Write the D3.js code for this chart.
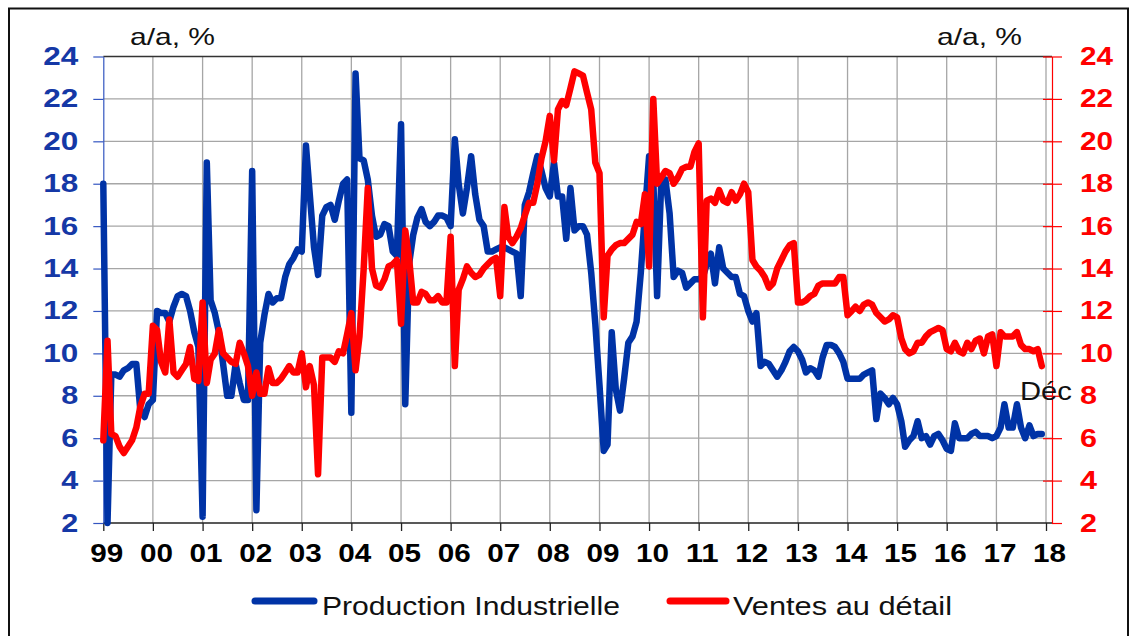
<!DOCTYPE html>
<html><head><meta charset="utf-8">
<script src="https://cdnjs.cloudflare.com/ajax/libs/d3/7.8.5/d3.min.js"></script>
<style>
body{margin:0;background:#fff}
svg{display:block}
text{font-family:"Liberation Sans",Arial,Helvetica,sans-serif}
</style>
</head><body>
<svg id="chart" width="1131" height="636"></svg>
<script>
// ---- data (monthly, Jan 1999 .. Dec 2017, % y/y) ----
const startYear = 1999;
const yearLabels = ["99","00","01","02","03","04","05","06","07","08","09","10","11","12","13","14","15","16","17","18"];
const yTickValues = [2,4,6,8,10,12,14,16,18,20,22,24];
const seriesNames = ["Production Industrielle", "Ventes au détail"];
const unitLabel = "a/a, %";
const lastLabel = "Déc";

const ipValues = [
 18.0, 2.0, 9.0, 9.0, 8.9, 9.2, 9.3, 9.5, 9.5, 7.3, 7.0, 7.6,
 7.8, 12.0, 11.9, 11.9, 11.5, 12.2, 12.7, 12.8, 12.7, 12.0, 11.0, 10.3,
 2.3, 19.0, 12.5, 11.9, 11.0, 9.5, 8.0, 8.0, 9.5, 8.6, 7.8, 7.8,
 18.6, 2.6, 10.5, 11.8, 12.8, 12.4, 12.6, 12.6, 13.6, 14.2, 14.5, 14.9,
 14.8, 19.8, 17.5, 15.0, 13.7, 16.5, 16.9, 17.0, 16.3, 17.2, 18.0, 18.2,
 7.2, 23.2, 19.2, 19.1, 18.2, 16.5, 15.5, 15.6, 16.1, 16.0, 14.8, 14.6,
 20.8, 7.6, 14.2, 15.6, 16.4, 16.8, 16.2, 16.0, 16.2, 16.5, 16.5, 16.4,
 16.0, 20.1, 18.0, 16.6, 17.8, 19.3, 17.5, 16.3, 16.0, 14.8, 14.8, 14.9,
 15.0, 15.0, 14.9, 14.8, 14.7, 12.7, 17.0, 17.6, 18.5, 19.3, 18.6, 17.8,
 17.4, 19.0, 17.4, 17.4, 15.4, 17.8, 15.8, 16.0, 16.0, 15.6, 13.8, 11.4,
 8.5, 5.4, 5.7, 11.0, 8.3, 7.3, 8.8, 10.5, 10.8, 11.5, 13.8, 16.6,
 19.3, 18.2, 12.7, 18.2, 18.2, 16.6, 13.6, 13.9, 13.8, 13.1, 13.3, 13.5,
 13.5, 13.6, 14.2, 14.7, 13.3, 15.0, 14.0, 13.8, 13.6, 13.6, 12.8, 12.7,
 12.0, 11.5, 11.9, 9.4, 9.6, 9.5, 9.2, 8.9, 9.2, 9.6, 10.1, 10.3,
 10.1, 9.7, 9.1, 9.3, 9.2, 8.9, 9.8, 10.4, 10.4, 10.3, 10.0, 9.6,
 8.8, 8.8, 8.8, 8.8, 9.0, 9.1, 9.2, 6.9, 8.1, 7.9, 7.6, 7.9,
 7.6, 6.8, 5.6, 5.9, 6.1, 6.8, 6.0, 6.1, 5.7, 6.1, 6.2, 5.9,
 5.5, 5.4, 6.7, 6.0, 6.0, 6.0, 6.2, 6.3, 6.1, 6.1, 6.1, 6.0,
 6.1, 6.5, 7.6, 6.5, 6.5, 7.6, 6.5, 6.0, 6.6, 6.1, 6.2, 6.2
];

const retailValues = [
 5.9, 10.6, 6.2, 6.1, 5.6, 5.3, 5.6, 5.9, 6.5, 7.5, 8.1, 8.1,
 11.3, 11.1, 9.6, 9.1, 11.6, 9.1, 8.9, 9.2, 9.5, 10.3, 8.8, 8.7,
 12.4, 8.6, 9.7, 10.0, 11.1, 10.0, 9.8, 9.6, 9.5, 10.5, 10.0, 9.4,
 8.0, 9.1, 8.1, 8.1, 9.3, 8.6, 8.6, 8.8, 9.1, 9.4, 9.1, 9.1,
 10.0, 8.4, 9.4, 8.5, 4.3, 9.8, 9.8, 9.8, 9.6, 10.1, 10.0, 10.9,
 11.9, 9.2, 10.8, 14.0, 17.8, 14.0, 13.2, 13.1, 13.5, 14.1, 14.2, 14.4,
 11.4, 15.8, 14.5, 12.4, 12.4, 12.9, 12.8, 12.5, 12.5, 12.7, 12.4, 12.4,
 15.5, 9.4, 13.0, 13.5, 14.1, 13.8, 13.6, 13.7, 14.0, 14.2, 14.4, 14.5,
 12.7, 16.9, 15.5, 15.2, 15.5, 15.9, 16.5, 17.1, 17.1, 18.0, 19.2, 20.0,
 21.2, 19.1, 21.5, 21.9, 21.7, 22.5, 23.3, 23.2, 23.1, 22.3, 21.5, 19.0,
 18.5, 11.7, 14.6, 14.9, 15.1, 15.2, 15.2, 15.4, 15.6, 16.2, 16.1, 17.5,
 14.1, 22.0, 18.0, 18.3, 18.6, 18.5, 18.0, 18.3, 18.7, 18.8, 18.8, 19.5,
 19.9, 11.7, 17.2, 17.3, 17.1, 17.7, 17.2, 17.1, 17.6, 17.2, 17.5, 18.0,
 17.6, 14.4, 14.1, 13.9, 13.6, 13.1, 13.3, 14.0, 14.4, 14.8, 15.1, 15.2,
 12.4, 12.4, 12.5, 12.7, 12.8, 13.2, 13.3, 13.3, 13.3, 13.3, 13.6, 13.6,
 11.8, 12.0, 12.2, 12.0, 12.3, 12.4, 12.3, 11.9, 11.7, 11.5, 11.6, 11.8,
 11.7, 10.7, 10.2, 10.0, 10.1, 10.5, 10.5, 10.8, 11.0, 11.1, 11.2, 11.1,
 10.2, 10.1, 10.5, 10.1, 10.0, 10.5, 10.2, 10.6, 10.7, 10.0, 10.8, 10.9,
 9.4, 11.0, 10.8, 10.8, 10.8, 11.0, 10.4, 10.2, 10.2, 10.1, 10.2, 9.4
];

// ---- styles ----
const BLUE = "#0033a6", RED = "#ff0000", GRID = "#a6a6a6";
const svg = d3.select("#chart");
const W = 1131, H = 636;
const plot = {left: 103.3, right: 1052, top: 56.5, bottom: 523};

svg.append("rect").attr("width", W).attr("height", H).attr("fill", "#fff");
svg.append("rect").attr("x", 9).attr("y", 8.5).attr("width", 1119).attr("height", 660)
  .attr("fill", "none").attr("stroke", "#111").attr("stroke-width", 2);

const monthDate = i => new Date(startYear, i, 1);
const x = d3.scaleTime()
  .domain([new Date(startYear, 0, 1), new Date(startYear + yearLabels.length - 1, 0, 1)])
  .range([plot.left, 1046]);
const y = d3.scaleLinear().domain([2, 24]).range([plot.bottom, plot.top]);

const yearDates = yearLabels.map((_, k) => new Date(startYear + k, 0, 1));

// grid
const grid = svg.append("g");
grid.selectAll("line.h").data(yTickValues.filter(v => v > 2 && v < 24)).join("line")
  .attr("x1", plot.left).attr("x2", plot.right)
  .attr("y1", d => y(d)).attr("y2", d => y(d))
  .attr("stroke", GRID).attr("stroke-width", 1.3);
grid.selectAll("line.v").data(yearDates.slice(1)).join("line")
  .attr("x1", d => x(d)).attr("x2", d => x(d))
  .attr("y1", plot.top).attr("y2", plot.bottom)
  .attr("stroke", GRID).attr("stroke-width", 1.3);
svg.append("line").attr("x1", plot.left).attr("x2", plot.right)
  .attr("y1", plot.top).attr("y2", plot.top).attr("stroke", "#333").attr("stroke-width", 1.5);

// bottom axis
const xAxis = svg.append("g").attr("transform", `translate(0,${plot.bottom})`)
  .call(d3.axisBottom(x).tickValues(yearDates)
    .tickFormat((d, i) => yearLabels[i]).tickSize(8).tickSizeOuter(0).tickPadding(13));
xAxis.select(".domain").remove();
xAxis.selectAll(".tick line").attr("stroke", "#222").attr("stroke-width", 1.3);
xAxis.selectAll(".tick text").attr("font-size", 26).attr("font-weight", "bold")
  .attr("fill", "#000").attr("dx", 3)
  .attr("textLength", 33).attr("lengthAdjust", "spacingAndGlyphs");
svg.append("line").attr("x1", plot.left).attr("x2", plot.right)
  .attr("y1", plot.bottom).attr("y2", plot.bottom).attr("stroke", "#222").attr("stroke-width", 1.5);

// left axis
const yL = svg.append("g").attr("transform", `translate(${plot.left},0)`)
  .call(d3.axisLeft(y).tickValues(yTickValues).tickSize(10).tickSizeOuter(0).tickPadding(15));
yL.select(".domain").attr("stroke", "#3355c0").attr("stroke-width", 1.2);
yL.selectAll(".tick line").attr("stroke", "#3355c0").attr("stroke-width", 1.2);
yL.selectAll(".tick text").attr("font-size", 25).attr("font-weight", "bold")
  .attr("fill", "#1538a6")
  .attr("textLength", d => d >= 10 ? 35 : 17).attr("lengthAdjust", "spacingAndGlyphs");

// right axis
const yR = svg.append("g").attr("transform", `translate(${plot.right},0)`)
  .call(d3.axisRight(y).tickValues(yTickValues).tickSize(10).tickSizeOuter(0).tickPadding(18));
yR.select(".domain").attr("stroke", RED).attr("stroke-width", 1.2);
yR.selectAll(".tick line").attr("stroke", RED).attr("stroke-width", 1.2);
yR.selectAll(".tick").filter(d => d > 2).append("line")
  .attr("x1", -9).attr("x2", 0).attr("stroke", RED).attr("stroke-width", 1.2);
yR.selectAll(".tick text").attr("font-size", 25).attr("font-weight", "bold")
  .attr("fill", RED)
  .attr("textLength", d => d >= 10 ? 33 : 17).attr("lengthAdjust", "spacingAndGlyphs");

// series
const line = d3.line().x((d, i) => x(monthDate(i))).y(d => y(d)).curve(d3.curveLinear);
svg.append("path").datum(ipValues).attr("d", line)
  .attr("fill", "none").attr("stroke", BLUE).attr("stroke-width", 6.5)
  .attr("stroke-linejoin", "round").attr("stroke-linecap", "round");
svg.append("path").datum(retailValues).attr("d", line)
  .attr("fill", "none").attr("stroke", RED).attr("stroke-width", 6.5)
  .attr("stroke-linejoin", "round").attr("stroke-linecap", "round");

// unit labels
svg.append("text").attr("x", 130).attr("y", 45).attr("font-size", 24)
  .attr("textLength", 85).attr("lengthAdjust", "spacingAndGlyphs").attr("fill", "#111").text(unitLabel);
svg.append("text").attr("x", 937).attr("y", 45).attr("font-size", 24)
  .attr("textLength", 85).attr("lengthAdjust", "spacingAndGlyphs").attr("fill", "#111").text(unitLabel);

// last point label
svg.append("text").attr("x", 1020).attr("y", 400).attr("font-size", 25)
  .attr("textLength", 52).attr("lengthAdjust", "spacingAndGlyphs").attr("fill", "#111").text(lastLabel);

// legend
const legend = [
  {name: seriesNames[0], color: BLUE, x1: 255, x2: 314, tx: 322, tl: 298},
  {name: seriesNames[1], color: RED, x1: 670, x2: 726, tx: 733, tl: 219}
];
const lg = svg.append("g");
lg.selectAll("line").data(legend).join("line")
  .attr("x1", d => d.x1).attr("x2", d => d.x2).attr("y1", 601).attr("y2", 601)
  .attr("stroke", d => d.color).attr("stroke-width", 7).attr("stroke-linecap", "round");
lg.selectAll("text").data(legend).join("text")
  .attr("x", d => d.tx).attr("y", 615).attr("font-size", 26)
  .attr("textLength", d => d.tl).attr("lengthAdjust", "spacingAndGlyphs")
  .attr("fill", "#111").text(d => d.name);
</script>
</body></html>
